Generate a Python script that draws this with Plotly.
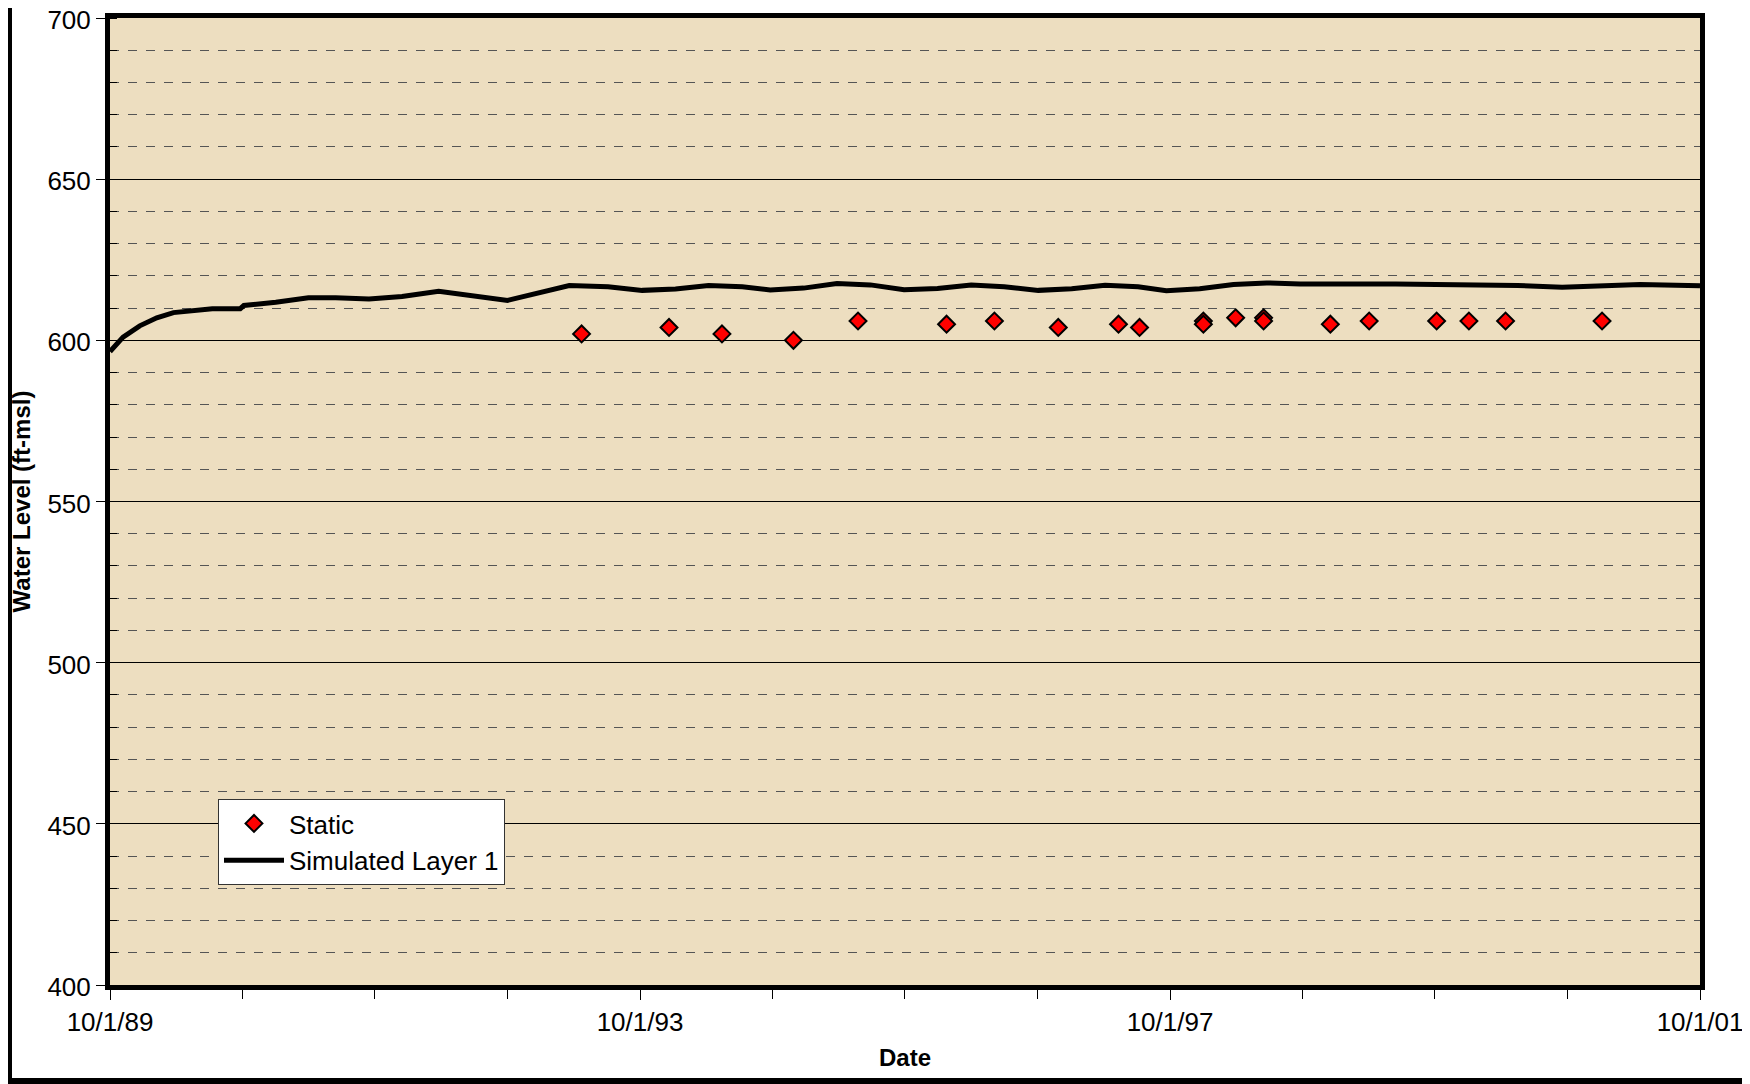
import plotly.graph_objects as go

# Simulated water level (layer 1)
sim_dates = ["1989-10-01", "1989-11-06", "1989-12-22", "1990-02-07", "1990-03-25",
             "1990-05-25", "1990-07-10", "1990-09-25", "1990-10-05", "1991-01-01",
             "1991-04-01", "1991-06-15", "1991-09-15", "1991-12-15", "1992-03-25",
             "1992-10-01", "1993-03-20", "1993-07-05", "1993-10-07", "1994-01-07",
             "1994-04-08", "1994-07-10", "1994-09-25", "1994-12-26", "1995-03-28",
             "1995-06-28", "1995-09-29", "1995-12-30", "1996-04-01", "1996-07-01",
             "1996-10-03", "1997-01-03", "1997-04-05", "1997-07-05", "1997-09-21",
             "1997-12-22", "1998-03-25", "1998-06-24", "1998-09-25", "1999-06-15",
             "1999-09-30", "2000-01-15", "2000-05-16", "2000-09-16", "2001-01-18",
             "2001-04-19", "2001-10-01"]
sim_levels = [596.5, 601.0, 604.5, 607.0, 608.6,
              609.5, 609.8, 609.8, 610.8, 611.8,
              613.2, 613.2, 612.8, 613.6, 615.2,
              612.4, 617.0, 616.6, 615.5, 615.9,
              617.0, 616.6, 615.6, 616.2, 617.6,
              617.2, 615.7, 616.1, 617.2, 616.6,
              615.5, 616.0, 617.1, 616.6, 615.4,
              616.0, 617.3, 617.8, 617.5, 617.5,
              617.4, 617.3, 617.0, 616.5, 616.8,
              617.3, 616.9]

# Static measurements
static_dates = ["1993-04-23", "1993-12-20", "1994-05-15", "1994-11-28", "1995-05-25",
                "1996-01-24", "1996-06-04", "1996-11-27", "1997-05-12", "1997-07-09",
                "1998-01-01", "1998-01-01", "1998-03-31", "1998-06-16", "1998-06-16",
                "1998-12-17", "1999-04-03", "1999-10-06", "2000-01-03", "2000-04-13",
                "2001-01-04"]
static_levels = [602, 604, 602, 600, 606,
                 605, 606, 604, 605, 604,
                 606, 605, 607, 607, 606,
                 605, 606, 606, 606, 606,
                 606]

FONT = "Liberation Sans, Arial, sans-serif"
# page body has an 8px margin, so the figure is sized/offset to compensate
W, H = 1742, 1076
ML, MR, MT, MB = 102, 50, 10, 99
PW, PH = W - ML - MR, H - MT - MB

fig = go.Figure()

fig.add_trace(go.Scatter(
    x=static_dates, y=static_levels, mode="markers", name="Static",
    marker=dict(symbol="diamond", size=13, color="#FF0000",
                line=dict(color="black", width=2))
))

fig.add_trace(go.Scatter(
    x=sim_dates, y=sim_levels, mode="lines", name="Simulated Layer 1",
    line=dict(color="black", width=5)
))

fig.update_xaxes(
    range=["1989-10-01", "2001-10-01"], automargin=False, ticklabeloverflow="allow",
    tick0="1989-10-01", dtick="M48", tickformat="%-m/%-d/%y",
    ticks="outside", ticklen=10, tickcolor="black", tickwidth=1,
    showgrid=False, zeroline=False,
    showline=True, linecolor="black", linewidth=5, mirror=True,
    tickfont=dict(family=FONT, size=26, color="black"),
    title=dict(text="<b>Date</b>", font=dict(family=FONT, size=24, color="black"), standoff=14),
    minor=dict(dtick="M12", tick0="1989-10-01", ticks="outside", ticklen=9,
               tickcolor="black", showgrid=False),
)

fig.update_yaxes(
    range=[400, 700], dtick=50, automargin=False, ticklabeloverflow="allow",
    ticklabelshift=2,
    ticks="outside", ticklen=9, tickcolor="black", tickwidth=1,
    showgrid=True, gridcolor="black", gridwidth=1, zeroline=False,
    showline=True, linecolor="black", linewidth=5, mirror=True,
    tickfont=dict(family=FONT, size=26, color="black"),
    title=dict(text="<b>Water Level (ft-msl)</b>", font=dict(family=FONT, size=24, color="black"), standoff=18),
    minor=dict(dtick=10, ticks="inside", ticklen=7, tickcolor="black",
               showgrid=True, gridcolor="#555555", gridwidth=1, griddash="dash"),
)

# outer figure frame (left and bottom edges visible)
px = lambda v: (v - ML) / PW
py = lambda v: (H - MB - v) / PH
fig.add_shape(type="rect", xref="paper", yref="paper",
              x0=px(0), x1=px(4), y0=py(H), y1=py(0),
              fillcolor="black", line=dict(width=0), layer="above")
fig.add_shape(type="rect", xref="paper", yref="paper",
              x0=px(0), x1=px(W), y0=py(H), y1=py(H - 6),
              fillcolor="black", line=dict(width=0), layer="above")

fig.update_layout(
    width=W, height=H,
    margin=dict(l=ML, r=MR, t=MT, b=MB, autoexpand=False),
    paper_bgcolor="white", plot_bgcolor="#EDDEC0",
    font=dict(family=FONT, color="black"),
    showlegend=True,
    legend=dict(x=px(210), y=py(791), xanchor="left", yanchor="top",
                bgcolor="white", bordercolor="#333333", borderwidth=1,
                font=dict(family=FONT, size=26, color="black"),
                itemwidth=60, tracegroupgap=0),
)

fig.write_html("out.html")
